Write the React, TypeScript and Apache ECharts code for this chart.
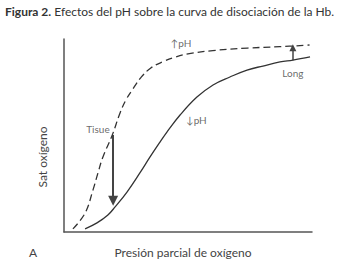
import React, { useEffect, useRef } from "react";
import * as echarts from "echarts";

// High pH curve (dashed)
const highPhX = [3.6, 8.5, 11.7, 13.7, 15.7, 19.4, 22.6, 25, 28, 31, 35, 40, 45, 50, 60, 74, 87, 99];
const highPhY = [1.6, 9.8, 21.8, 30.6, 38.9, 50, 61.7, 68.5, 74.5, 80, 85, 88.3, 90.7, 92.3, 94.0, 95.3, 96.0, 96.9];
// Low pH curve (solid)
const lowPhX = [8.5, 13.3, 17.7, 20.6, 25.4, 30.6, 34.7, 38.7, 41.5, 46.8, 53.6, 60.1, 66.9, 73.8, 80.2, 87.1, 92.3, 99.2];
const lowPhY = [1.6, 4.7, 8.8, 13.0, 20.7, 30.6, 38.9, 46.6, 51.8, 60.6, 69.9, 76.2, 80.3, 83.9, 86.0, 88.1, 89.1, 90.7];
// Arrows: [x0, y0, x1, y1]
const tisueArrow = [19.8, 50.3, 19.8, 16.2];
const longArrow = [92.3, 89.0, 92.3, 95.5];
// Annotations
const annotations: [number, number, string][] = [
  [13.7, 53.4, "Tisue"],
  [92.3, 82.4, "Long"],
  [47.2, 97.9, "↑pH"],
  [53.4, 58.0, "↓pH"],
];
const titleBold = "Figura 2.";
const titleRest = " Efectos del pH sobre la curva de disociación de la Hb.";
const yName = "Sat oxígeno";
const xName = "Presión parcial de oxígeno";
const panelLetter = "A";

const FONT = "Lato, 'Open Sans', sans-serif";

export default function App() {
  const ref = useRef<HTMLDivElement>(null);
  useEffect(() => {
    const chart = echarts.init(ref.current!, undefined, { renderer: "svg" });
    chart.setOption({
      animation: false,
      backgroundColor: "#ffffff",
      textStyle: { fontFamily: FONT },
      grid: { left: 64, right: 30, top: 39, bottom: 32 },
      xAxis: {
        type: "value", min: 0, max: 100,
        axisLine: { show: true, lineStyle: { color: "#555", width: 1.5 } },
        axisTick: { show: false }, axisLabel: { show: false }, splitLine: { show: false },
      },
      yAxis: {
        type: "value", min: 0, max: 100,
        axisLine: { show: true, lineStyle: { color: "#555", width: 1.5 } },
        axisTick: { show: false }, axisLabel: { show: false }, splitLine: { show: false },
      },
      graphic: [
        {
          type: "text", left: 5, top: 5,
          style: {
            text: `{b|${titleBold}}${titleRest}`,
            fontFamily: FONT, fontSize: 12, fill: "#333",
            rich: { b: { fontWeight: "bold", fontFamily: FONT, fontSize: 12, fill: "#333" } },
          },
        },
        {
          type: "text", x: 42, y: 157, rotation: Math.PI / 2,
          style: { text: yName, fontFamily: FONT, fontSize: 12, fill: "#444", align: "center", verticalAlign: "middle" },
        },
        {
          type: "text", x: 183, y: 252,
          style: { text: xName, fontFamily: FONT, fontSize: 12, fill: "#444", align: "center", verticalAlign: "middle" },
        },
        {
          type: "text", x: 33, y: 252,
          style: { text: panelLetter, fontFamily: FONT, fontSize: 12, fill: "#444", align: "center", verticalAlign: "middle" },
        },
      ],
      series: [
        {
          type: "line", data: highPhX.map((x, i) => [x, highPhY[i]]), smooth: 0.4, symbol: "none",
          lineStyle: { color: "#333", width: 1.3, type: [7, 4] },
        },
        {
          type: "line", data: lowPhX.map((x, i) => [x, lowPhY[i]]), smooth: 0.4, symbol: "none",
          lineStyle: { color: "#333", width: 1.3 },
        },
        {
          type: "lines", coordinateSystem: "cartesian2d",
          symbol: ["none", "triangle"], symbolSize: [0, 10],
          lineStyle: { color: "#444", width: 2, opacity: 1 },
          itemStyle: { color: "#444" },
          data: [{ coords: [[tisueArrow[0], tisueArrow[1]], [tisueArrow[2], tisueArrow[3]]] }],
        },
        {
          type: "lines", coordinateSystem: "cartesian2d",
          symbol: ["none", "triangle"], symbolSize: [0, 7],
          lineStyle: { color: "#444", width: 1.5, opacity: 1 },
          data: [{ coords: [[longArrow[0], longArrow[1]], [longArrow[2], longArrow[3]]] }],
        },
        {
          type: "scatter", symbolSize: 0, silent: true,
          data: annotations.map((a) => ({ value: [a[0], a[1]], name: a[2] })),
          label: {
            show: true, position: "inside", formatter: (p: any) => p.name,
            fontFamily: FONT, fontSize: 10, color: "#444",
          },
        },
      ],
    });
    return () => chart.dispose();
  }, []);
  return <div ref={ref} style={{ width: 342, height: 264, position: "absolute", left: 0, top: 0 }} />;
}
